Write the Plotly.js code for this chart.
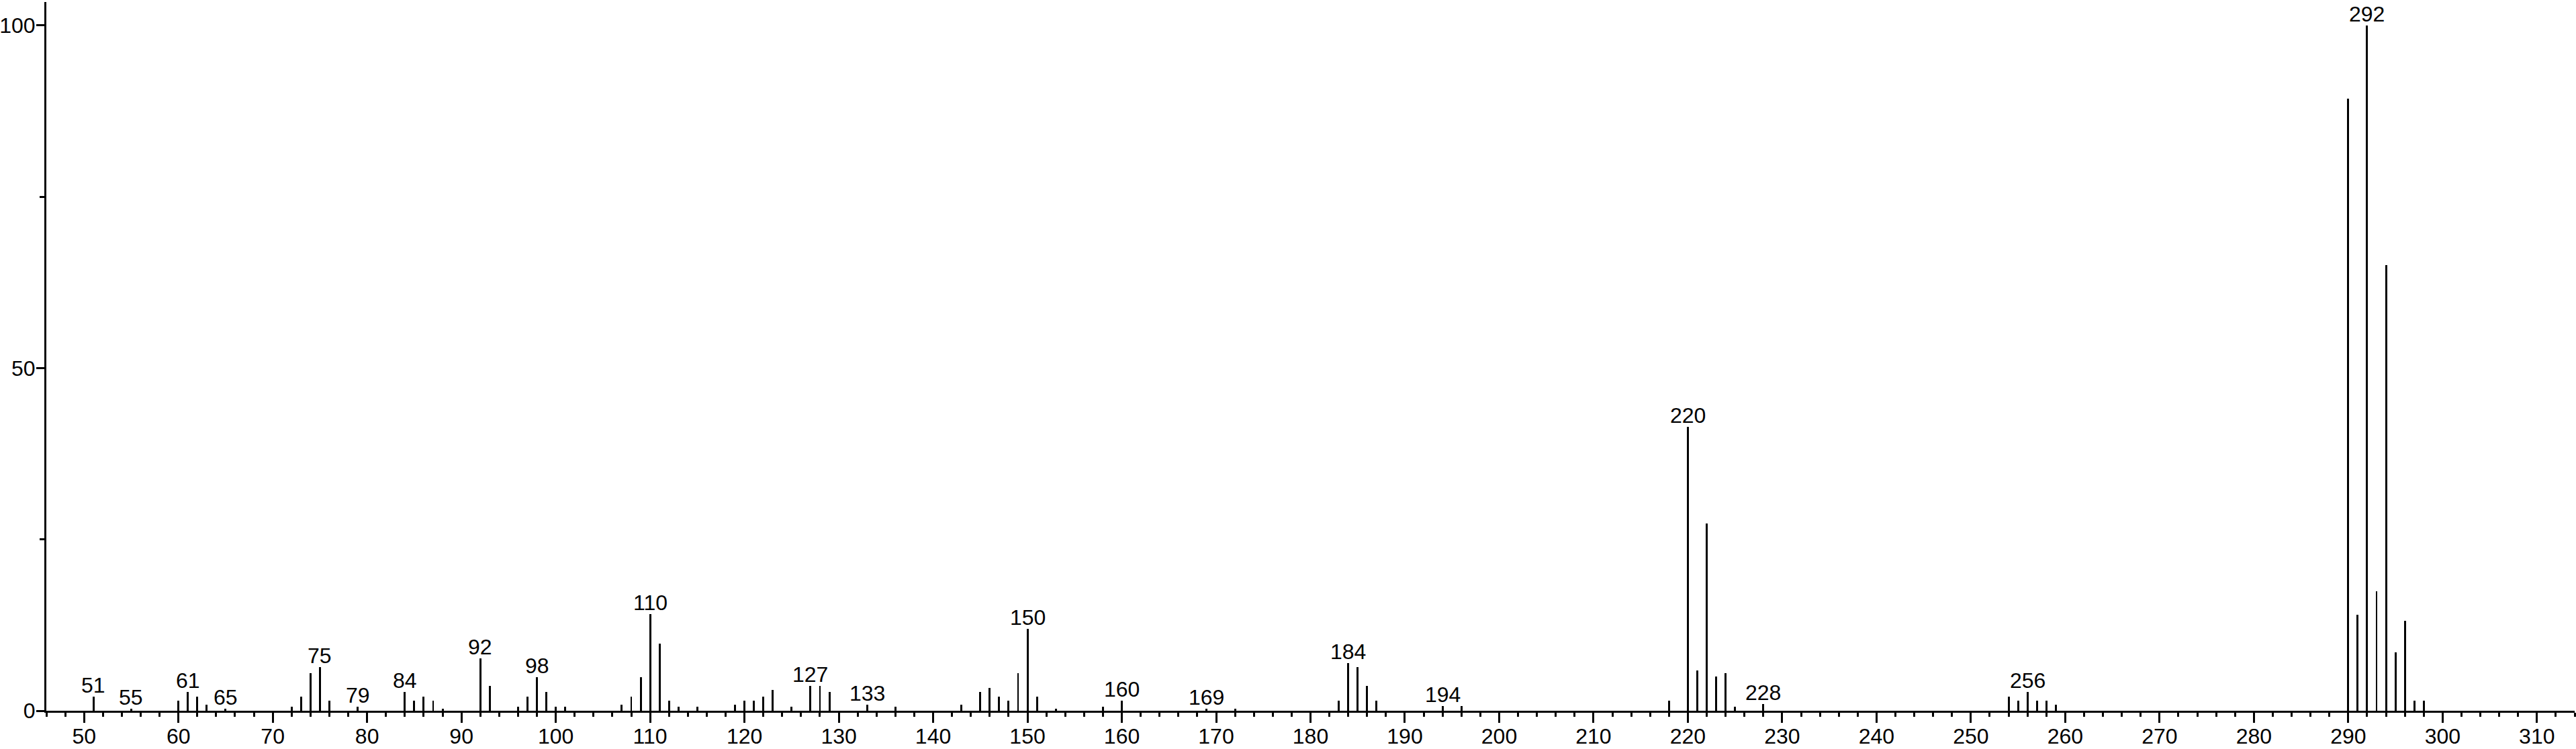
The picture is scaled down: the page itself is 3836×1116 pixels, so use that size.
<!DOCTYPE html>
<html>
<head>
<meta charset="utf-8">
<script src="https://cdn.plot.ly/plotly-3.0.1.min.js"></script>
<style>
  html, body { margin: 0; padding: 0; background: #ffffff; }
  #chart { width: 3836px; height: 1116px; }
</style>
</head>
<body>
<div id="chart"></div>
<script>
// m/z values of the peaks
const mz = [51, 55, 60, 61, 62, 63, 65, 72, 73, 74, 75, 76, 79, 84, 85, 86, 87, 88, 92, 93,
            96, 97, 98, 99, 100, 101, 107, 108, 109, 110, 111, 112, 113, 115, 119, 120, 121, 122, 123, 125,
            127, 128, 129, 133, 136, 143, 145, 146, 147, 148, 149, 150, 151, 153, 158, 160, 169, 172,
            183, 184, 185, 186, 187, 194, 196, 218, 220, 221, 222, 223, 224, 225, 228,
            254, 255, 256, 257, 258, 259, 290, 291, 292, 293, 294, 295, 296, 297, 298];
// relative intensities (%)
const intensity = [2.05, 0.3, 1.5, 2.7, 2.1, 0.9, 0.3, 0.6, 2.1, 5.5, 6.4, 1.5, 0.6, 2.7, 1.5, 2.1, 1.5, 0.3, 7.6, 3.6,
            0.6, 2.1, 4.85, 2.7, 0.6, 0.6, 0.9, 2.1, 4.9, 14.1, 9.8, 1.5, 0.6, 0.6, 0.9, 1.5, 1.5, 2.1, 3.0, 0.6,
            3.6, 3.6, 2.7, 0.9, 0.6, 0.9, 2.7, 3.3, 2.1, 1.5, 5.5, 11.9, 2.1, 0.3, 0.6, 1.5, 0.3, 0.3,
            1.5, 7.0, 6.4, 3.6, 1.5, 0.7, 0.7, 1.5, 41.4, 5.85, 27.3, 5.0, 5.5, 0.6, 1.0,
            2.1, 1.5, 2.7, 1.5, 1.5, 0.9, 89.3, 14.0, 100, 17.4, 65.0, 8.5, 13.1, 1.5, 1.5];
// peaks that carry an m/z label
const labelledMz = [51, 55, 61, 65, 75, 79, 84, 92, 98, 110, 127, 133, 150, 160, 169, 184, 194, 220, 228, 256, 292];
// axis ticks
const xTickVals = [50, 60, 70, 80, 90, 100, 110, 120, 130, 140, 150, 160, 170, 180, 190, 200, 210, 220, 230, 240, 250, 260, 270, 280, 290, 300, 310];
const yTickVals = [0, 50, 100];

const FONT = 'Liberation Sans, Arial, Helvetica, sans-serif';

const annotations = labelledMz.map(function (m) {
  const i = mz.indexOf(m);
  return {
    x: m, y: intensity[i], xref: 'x', yref: 'y',
    text: String(m), showarrow: false,
    xanchor: 'center', yanchor: 'bottom', yshift: -3,
    font: { family: FONT, size: 32, color: '#000000' }
  };
});

const trace = {
  type: 'bar',
  x: mz,
  y: intensity,
  width: 0.21,
  marker: { color: '#000000', line: { width: 0 } },
  hoverinfo: 'x+y'
};

const layout = {
  width: 3836, height: 1116,
  margin: { l: 69, r: 2, t: 3, b: 57, pad: 0 },
  paper_bgcolor: '#ffffff', plot_bgcolor: '#ffffff',
  showlegend: false,
  bargap: 0,
  font: { family: FONT, size: 32, color: '#000000' },
  xaxis: {
    range: [46, 314],
    showline: true, linecolor: '#000000', linewidth: 3,
    zeroline: false, showgrid: false,
    ticks: 'outside', ticklen: 15, tickwidth: 3, tickcolor: '#000000',
    tickmode: 'array', tickvals: xTickVals, ticktext: xTickVals.map(String),
    minor: { dtick: 2, tick0: 0, ticks: 'outside', ticklen: 6, tickwidth: 3, tickcolor: '#000000', showgrid: false },
    tickfont: { family: FONT, size: 32, color: '#000000' },
    ticklabelstandoff: -7,
    fixedrange: true
  },
  yaxis: {
    range: [0, 103.4],
    showline: true, linecolor: '#000000', linewidth: 3,
    zeroline: false, showgrid: false,
    ticks: 'outside', ticklen: 12, tickwidth: 3, tickcolor: '#000000',
    tickmode: 'array', tickvals: yTickVals, ticktext: yTickVals.map(String),
    minor: { dtick: 25, tick0: 0, ticks: 'outside', ticklen: 7, tickwidth: 3, tickcolor: '#000000', showgrid: false },
    tickfont: { family: FONT, size: 32, color: '#000000' },
    ticklabelstandoff: -5,
    fixedrange: true
  },
  annotations: annotations
};

Plotly.newPlot('chart', [trace], layout, { displayModeBar: false, staticPlot: true });
</script>
</body>
</html>
